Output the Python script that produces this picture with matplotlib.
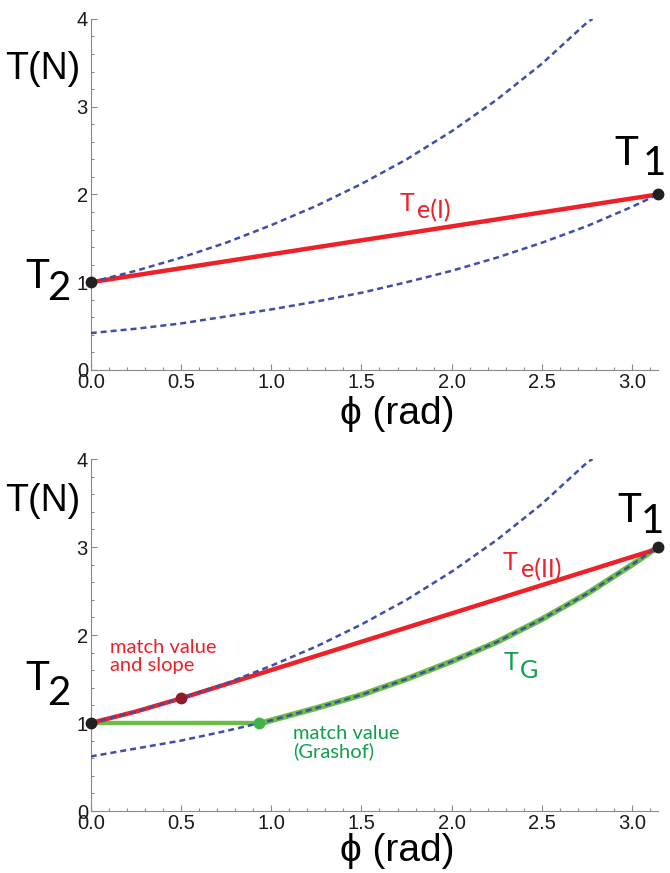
import matplotlib.pyplot as plt
from matplotlib.ticker import MultipleLocator

# capstan tension vs wrap angle
phi_up = [0.0, 0.25, 0.5, 0.75, 1.0, 1.25, 1.5, 1.75, 2.0, 2.25, 2.5, 2.75, 2.78]
T_up = [1.00, 1.13, 1.28, 1.45, 1.65, 1.87, 2.12, 2.40, 2.72, 3.08, 3.49, 3.96, 4.00]

phi_low = [0.0, 0.25, 0.5, 0.75, 1.0, 1.25, 1.5, 1.75, 2.0, 2.25, 2.5, 2.75, 3.0, 3.1416]
T_low_I = [0.42, 0.47, 0.53, 0.61, 0.69, 0.78, 0.88, 1.00, 1.13, 1.28, 1.45, 1.64, 1.86, 2.00]
T_low_II = [0.62, 0.71, 0.80, 0.91, 1.03, 1.17, 1.32, 1.50, 1.70, 1.92, 2.18, 2.47, 2.80, 3.00]

phi_te1 = [0.0, 3.1416]
T_te1 = [1.0, 2.0]
phi_te2 = [0.0, 0.25, 0.5, 3.1416]
T_te2 = [1.0, 1.13, 1.28, 2.98]

phi_flat = [0.0, 0.93]
T_flat = [1.0, 1.0]
phi_g = [0.93, 1.0, 1.25, 1.5, 1.75, 2.0, 2.25, 2.5, 2.75, 3.0, 3.1416]
T_g = [0.99, 1.03, 1.17, 1.32, 1.50, 1.70, 1.92, 2.18, 2.47, 2.80, 3.00]

phi_ends = [0.0, 3.1416]
T_ends_I = [1.0, 2.0]
T_ends_II = [1.0, 3.0]
phi_slope, T_slope = [0.5], [1.28]
phi_gras, T_gras = [0.93], [1.0]

plt.rcParams['font.family'] = ['Liberation Sans', 'DejaVu Sans']
plt.rcParams['lines.dash_capstyle'] = 'butt'

BLUE = '#3f4fa6'
RED = '#ee2028'
GREEN = '#6cbd45'
GREEN_TXT = '#0ea04a'
LABEL_FONT = ['Lato', 'DejaVu Sans']

fig = plt.figure(figsize=(6.7, 8.73), dpi=100)
ax1 = fig.add_axes([0.1354, 0.5762, 0.8463, 0.4021])
ax2 = fig.add_axes([0.1354, 0.0710, 0.8463, 0.4032])


def style_axes(ax):
    ax.set_xlim(0, 3.1416)
    ax.set_ylim(0, 4)
    for side in ['top', 'right']:
        ax.spines[side].set_visible(False)
    for side in ['left', 'bottom']:
        ax.spines[side].set_color('#8a8a8a')
        ax.spines[side].set_linewidth(0.8)
    ax.xaxis.set_minor_locator(MultipleLocator(0.1))
    ax.yaxis.set_major_locator(MultipleLocator(1))
    ax.yaxis.set_minor_locator(MultipleLocator(0.2))
    ax.set_xticks([0, 0.5, 1.0, 1.5, 2.0, 2.5, 3.0])
    ax.set_xticklabels(['0.0', '0.5', '1.0', '1.5', '2.0', '2.5', '3.0'])
    ax.tick_params(which='both', direction='in', color='#8a8a8a', width=0.8,
                   labelsize=14.5, labelcolor='#1a1a1a')
    ax.tick_params(which='major', length=4.5)
    ax.tick_params(which='minor', length=2.3)
    ax.tick_params(axis='y', pad=2)
    ax.tick_params(axis='x', pad=2.5)


def dashed(ax, x, y):
    ax.plot(x, y, color=BLUE, lw=1.8, dashes=(2.4, 1.6), zorder=4)


def sub_label(ax, x, y, xs, ys, main, sub, size, color='black', fam=LABEL_FONT):
    ax.text(x, y, main, fontsize=size, color=color, family=fam,
            ha='left', va='baseline', zorder=6)
    ax.text(xs, ys, sub, fontsize=size, color=color, family=fam,
            ha='left', va='baseline', zorder=6)


# ---- top panel ----
style_axes(ax1)
dashed(ax1, phi_up, T_up)
dashed(ax1, phi_low, T_low_I)
ax1.plot(phi_te1, T_te1, color=RED, lw=3.2, zorder=3)
ax1.plot(phi_ends, T_ends_I, 'o', color='#231f20', ms=7.5, zorder=7, clip_on=False)

ax1.text(-0.06, 3.43, 'T(N)', fontsize=27, ha='right', va='center')
ax1.text(1.697, -0.50, 'ϕ (rad)', fontsize=28, ha='center', va='center')
sub_label(ax1, -0.36, 0.93, -0.24, 0.80, 'T', '2', 29)
sub_label(ax1, 2.90, 2.34, 3.06, 2.22, 'T', '1', 29)
sub_label(ax1, 1.71, 1.81, 1.81, 1.73, 'T', 'e(I)', 18, color=RED)

# ---- bottom panel ----
style_axes(ax2)
ax2.plot(phi_flat, T_flat, color=GREEN, lw=3.2, zorder=2)
ax2.plot(phi_g, T_g, color=GREEN, lw=4.2, zorder=2)
ax2.plot(phi_te2, T_te2, color=RED, lw=3.2, zorder=3)
dashed(ax2, phi_up, T_up)
dashed(ax2, phi_low, T_low_II)
ax2.plot(phi_ends, T_ends_II, 'o', color='#231f20', ms=7.5, zorder=7, clip_on=False)
ax2.plot(phi_slope, T_slope, 'o', color='#8e1b2b', ms=7.5, zorder=7)
ax2.plot(phi_gras, T_gras, 'o', color='#3cb44a', ms=7.5, zorder=7)

ax2.text(-0.06, 3.52, 'T(N)', fontsize=27, ha='right', va='center')
ax2.text(1.697, -0.46, 'ϕ (rad)', fontsize=28, ha='center', va='center')
sub_label(ax2, -0.36, 1.375, -0.24, 1.205, 'T', '2', 29)
sub_label(ax2, 2.92, 3.28, 3.05, 3.16, 'T', '1', 29)
sub_label(ax2, 2.28, 2.74, 2.385, 2.66, 'T', 'e(II)', 18, color=RED)
sub_label(ax2, 2.29, 1.60, 2.38, 1.51, 'T', 'G', 18, color=GREEN_TXT)

ax2.text(0.105, 1.95, 'match value\nand slope', fontsize=14.5, color=RED,
         family=LABEL_FONT, ha='left', va='top', linespacing=1.05)
ax2.text(1.12, 0.98, 'match value\n(Grashof)', fontsize=14.5, color=GREEN_TXT,
         family=LABEL_FONT, ha='left', va='top', linespacing=1.05)

fig.savefig('out.png', dpi=100)
